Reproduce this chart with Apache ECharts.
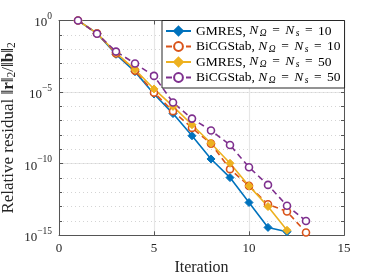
<!DOCTYPE html>
<html><head><meta charset="utf-8">
<script src="https://cdn.jsdelivr.net/npm/echarts@6/dist/echarts.min.js"></script>
<style>html,body{margin:0;padding:0;background:#fff}#c{width:381px;height:277px}</style>
</head><body><div id="c"></div>
<script>
const itersA = [1,2,3,4,5,6,7,8,9,10,11,12];
const itersB = [1,2,3,4,5,6,7,8,9,10,11,12,13];
const gmres10 = [1, 1.26e-1, 4.37e-3, 2.69e-4, 7.41e-6, 3.16e-7, 8.91e-9, 2.14e-10, 1.07e-11, 1.95e-13, 3.55e-15, 1.78e-15];
const bicg10  = [1, 1.26e-1, 5.01e-3, 3.16e-4, 9.12e-6, 4.68e-7, 3.16e-8, 2.51e-9, 4.17e-11, 2.82e-12, 1.48e-13, 4.57e-14, 1.58e-15];
const gmres50 = [1, 1.26e-1, 5.62e-3, 3.72e-4, 1.66e-5, 1.0e-6, 5.25e-8, 2.69e-9, 1.07e-10, 2.82e-12, 1.02e-13, 2.24e-15];
const bicg50  = [1, 1.20e-1, 6.76e-3, 1.0e-3, 1.35e-4, 1.86e-6, 1.41e-7, 2.09e-8, 2.04e-9, 5.62e-11, 3.31e-12, 1.15e-13, 1.0e-14];
const xTicks = [0,5,10,15];
const yTickExps = [0,-5,-10,-15];
const legendNames = ['GMRES10','BiCG10','GMRES50','BiCG50'];
const legendLabels = {
  GMRES10: 'GMRES, {i|N}{s|Ω}{e|=}{i|N}{s|s}{e|=}10',
  BiCG10: 'BiCGStab, {i|N}{s|Ω}{e|=}{i|N}{s|s}{e|=}10',
  GMRES50: 'GMRES, {i|N}{s|Ω}{e|=}{i|N}{s|s}{e|=}50',
  BiCG50: 'BiCGStab, {i|N}{s|Ω}{e|=}{i|N}{s|s}{e|=}50'
};
const FONT = 'Liberation Serif';
const AX = '#555';
const TXT = '#262626';
function pair(xs, ys){ return xs.map((x,i)=>[x, ys[i]]); }
const chart = echarts.init(document.getElementById('c'));
const ymin = Math.pow(10, yTickExps[yTickExps.length-1]);
const ymax = Math.pow(10, yTickExps[0]);
function supLabel(v){
  const e = Math.round(Math.log10(v));
  return '{b|10}{p|' + (e < 0 ? '\u2212' + (-e) : e) + '}';
}
const supRich = {
  b: {fontFamily: FONT, fontSize: 13, color: TXT, lineHeight: 18, verticalAlign: 'bottom'},
  p: {fontFamily: FONT, fontSize: 9.5, color: TXT, lineHeight: 11, verticalAlign: 'top'}
};
function line(name, data, color, dashed, symbol){
  return {
    name, type: 'line', data, xAxisIndex: 0, yAxisIndex: 0,
    symbol, symbolSize: symbol === 'diamond' ? 8 : 7,
    lineStyle: {color, width: 1.6, type: dashed ? [6,4] : 'solid'},
    itemStyle: symbol === 'diamond' ? {color, borderColor: color, borderWidth: 1} : {color: '#fff', borderColor: color, borderWidth: 1.6},
    emphasis: {disabled: true}, animation: false
  };
}
chart.setOption({
  animation: false,
  grid: {left: 59, right: 37, top: 20.5, bottom: 41.7, containLabel: false, outerBoundsMode: 'none'},
  legend: {
    data: legendNames, orient: 'vertical', left: 162, top: 20.5,
    backgroundColor: '#fff', borderColor: '#262626', borderWidth: 1,
    padding: [3, 4, 3, 3], itemGap: 0.5, itemWidth: 25, itemHeight: 11,
    formatter: n => legendLabels[n],
    textStyle: {fontFamily: FONT, fontSize: 13.5, color: '#000', lineHeight: 15,
      rich: {i: {fontFamily: FONT, fontStyle: 'italic', fontSize: 13.5, lineHeight: 15, verticalAlign: 'top', padding: [0, 1.5, 0, 0]},
             s: {fontFamily: FONT, fontStyle: 'italic', fontSize: 9.5, lineHeight: 10, verticalAlign: 'bottom'},
             e: {fontFamily: FONT, fontSize: 13.5, lineHeight: 15, verticalAlign: 'top', padding: [0, 5.5, 0, 5.5]}}}
  },
  xAxis: [
    {type: 'value', min: xTicks[0], max: xTicks[xTicks.length-1], interval: 5, position: 'bottom',
     name: 'Iteration', nameLocation: 'middle', nameGap: 23,
     nameTextStyle: {fontFamily: FONT, fontSize: 16, color: TXT},
     axisLine: {show: true, lineStyle: {color: AX}}, axisTick: {inside: true, length: 4, lineStyle: {color: AX}},
     axisLabel: {fontFamily: FONT, fontSize: 13, color: TXT, margin: 7},
     splitLine: {show: true, lineStyle: {color: '#e6e6e6', width: 1.2}}},
    {type: 'value', min: xTicks[0], max: xTicks[xTicks.length-1], interval: 5, position: 'top',
     axisLine: {show: true, lineStyle: {color: AX}}, axisTick: {inside: true, length: 4, lineStyle: {color: AX}},
     axisLabel: {show: false}, splitLine: {show: false}}
  ],
  yAxis: [
    {type: 'log', min: ymin, max: ymax, interval: 5, position: 'left',
     name: 'Relative residual {n|‖}{bb|r}{n|‖}{sub|2}{n|/‖}{bb|b}{n|‖}{sub|2}', nameLocation: 'middle', nameGap: 41,
     nameMoveOverlap: false,
     nameTextStyle: {fontFamily: FONT, fontSize: 17, color: TXT, lineHeight: 18,
       rich: {n: {fontFamily: FONT, fontSize: 17, color: TXT, lineHeight: 18, verticalAlign: 'top'},
              bb: {fontFamily: FONT, fontSize: 17, fontWeight: 'bold', color: TXT, lineHeight: 18, verticalAlign: 'top'},
              sub: {fontFamily: FONT, fontSize: 11.5, color: TXT, lineHeight: 11, verticalAlign: 'bottom'}}},
     axisLine: {show: true, lineStyle: {color: AX}}, axisTick: {inside: true, length: 4, lineStyle: {color: AX}},
     axisLabel: {formatter: supLabel, rich: supRich, margin: 7},
     splitLine: {show: true, lineStyle: {color: '#e6e6e6', width: 1.2}}},
    {type: 'log', min: ymin, max: ymax, interval: 1, position: 'left',
     axisLine: {show: false}, axisTick: {show: true, inside: true, length: 3, lineStyle: {color: AX}},
     axisLabel: {show: false},
     splitLine: {show: true, lineStyle: {color: '#d4d4d4', width: 1, type: [1,3]}}},
    {type: 'log', min: ymin, max: ymax, interval: 1, position: 'right',
     axisLine: {show: true, lineStyle: {color: AX}}, axisTick: {show: true, inside: true, length: 3, lineStyle: {color: AX}},
     axisLabel: {show: false}, splitLine: {show: false}}
  ],
  series: [
    line('GMRES10', pair(itersA, gmres10), '#0072BD', false, 'diamond'),
    line('BiCG10', pair(itersB, bicg10), '#D95319', true, 'circle'),
    line('GMRES50', pair(itersA, gmres50), '#EDB120', false, 'diamond'),
    line('BiCG50', pair(itersB, bicg50), '#7E2F8E', true, 'circle')
  ]
});
</script></body></html>
